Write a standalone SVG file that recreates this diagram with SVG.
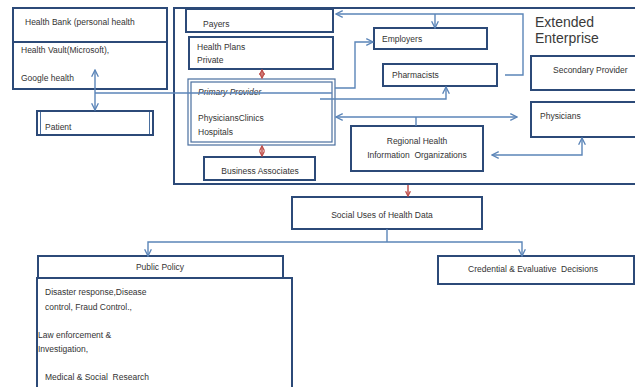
<svg xmlns="http://www.w3.org/2000/svg" width="635" height="387" viewBox="0 0 635 387">
<defs>
<style>
.box{fill:#fff;stroke:#2c4a78;stroke-width:2}
.thin{fill:none;stroke:#4a6f9f;stroke-width:1.2}
.t{font-family:"Liberation Sans",Arial,sans-serif;font-size:8.5px;fill:#333}
.c{text-anchor:middle}
.big{font-family:"Liberation Sans",Arial,sans-serif;font-size:14px;fill:#3a3a3a}
.con{fill:none;stroke:#5b85b8;stroke-width:1.4}
.red{fill:none;stroke:#c0504d;stroke-width:1.5}
</style>
<marker id="ah" viewBox="0 0 10 10" refX="9" refY="5" markerWidth="6" markerHeight="6" orient="auto-start-reverse">
<path d="M1,1 L9,5 L1,9" fill="none" stroke="#5b85b8" stroke-width="1.6"/>
</marker>
<marker id="ar" viewBox="0 0 10 10" refX="9" refY="5" markerWidth="4" markerHeight="4" orient="auto-start-reverse">
<path d="M1,1 L9,5 L1,9" fill="none" stroke="#c0504d" stroke-width="2.2"/>
</marker>
</defs>
<rect width="635" height="387" fill="#fff"/>

<g id="extended-enterprise">
<rect class="box" x="174" y="8" width="470" height="176"/>
<text class="big" x="535" y="27">Extended</text>
<text class="big" x="535" y="43">Enterprise</text>
</g>

<g id="health-bank">
<rect class="box" x="13" y="8" width="154" height="34"/>
<text class="t" x="25" y="25">Health Bank (personal health</text>
</g>
<g id="health-vault">
<rect class="box" x="13" y="42" width="154" height="47"/>
<text class="t" x="21" y="53">Health Vault(Microsoft),</text>
<text class="t" x="21" y="81">Google health</text>
</g>
<g id="patient">
<rect class="box" x="37" y="111" width="116" height="24" stroke-width="1.6"/>
<line x1="40.5" y1="112" x2="40.5" y2="134" stroke="#4a6f9f" stroke-width="1"/>
<line x1="149.5" y1="112" x2="149.5" y2="134" stroke="#4a6f9f" stroke-width="1"/>
<text class="t" x="45" y="130">Patient</text>
</g>

<g id="payers">
<rect class="box" x="186" y="9" width="147" height="23"/>
<text class="t" x="203" y="27">Payers</text>
</g>
<g id="health-plans">
<rect class="box" x="189" y="37" width="144" height="32"/>
<text class="t" x="197" y="50">Health Plans</text>
<text class="t" x="197" y="63">Private</text>
</g>
<g id="primary-provider">
<rect x="188" y="79" width="147" height="66" fill="#fff" stroke="#4a6f9f" stroke-width="1.2"/>
<rect class="thin" x="191" y="82" width="141" height="60"/>
<text class="t" x="198" y="95" font-style="italic">Primary Provider</text>
<text class="t" x="198" y="121">PhysiciansClinics</text>
<text class="t" x="198" y="135">Hospitals</text>
</g>
<g id="business-associates">
<rect class="box" x="204" y="157" width="111" height="23"/>
<text class="t c" x="260" y="174">Business Associates</text>
</g>
<g id="employers">
<rect class="box" x="374" y="28" width="113" height="21"/>
<text class="t" x="382" y="42">Employers</text>
</g>
<g id="pharmacists">
<rect class="box" x="383" y="64" width="114" height="22"/>
<text class="t" x="392" y="78">Pharmacists</text>
</g>
<g id="regional-health">
<rect class="box" x="351" y="126" width="132" height="45"/>
<text class="t c" x="417" y="144">Regional Health</text>
<text class="t c" x="417" y="158" xml:space="preserve">Information  Organizations</text>
</g>
<g id="secondary-provider">
<rect class="box" x="531" y="56" width="110" height="34"/>
<text class="t" x="553" y="73">Secondary Provider</text>
</g>
<g id="physicians">
<rect class="box" x="531" y="102" width="110" height="35"/>
<text class="t" x="540" y="119">Physicians</text>
</g>
<g id="social-uses">
<rect class="box" x="292" y="197" width="190" height="32"/>
<text class="t c" x="382" y="218">Social Uses of Health Data</text>
</g>
<g id="public-policy">
<rect class="box" x="38" y="256" width="245" height="22"/>
<text class="t c" x="160" y="270">Public Policy</text>
</g>
<g id="public-policy-details">
<rect class="box" x="37" y="278" width="255" height="120"/>
<text class="t" x="45" y="295">Disaster response,Disease</text>
<text class="t" x="45" y="310">control, Fraud Control.,</text>
<text class="t" x="38" y="338">Law enforcement &amp;</text>
<text class="t" x="38" y="352">Investigation,</text>
<text class="t" x="45" y="380" xml:space="preserve">Medical &amp; Social  Research</text>
</g>
<g id="credential">
<rect class="box" x="438" y="256" width="196" height="28"/>
<text class="t c" x="533" y="272" xml:space="preserve">Credential &amp; Evaluative  Decisions</text>
</g>

<g id="connectors">
<line class="con" x1="95" y1="70" x2="95" y2="110" marker-start="url(#ah)" marker-end="url(#ah)"/>
<line class="con" x1="95" y1="93" x2="332" y2="93" stroke-width="1"/>
<polyline class="con" points="320,99 446,99 446,87" marker-end="url(#ah)"/>
<polyline class="con" points="335,88 355,88 355,42 373,42" marker-end="url(#ah)"/>
<polyline class="con" points="505,75 523,75 523,14 336,14" marker-end="url(#ah)"/>
<line class="con" x1="435" y1="14" x2="435" y2="28" marker-end="url(#ah)"/>
<line class="con" x1="336" y1="117" x2="517" y2="117" marker-start="url(#ah)" marker-end="url(#ah)"/>
<line class="con" x1="416" y1="117" x2="416" y2="126"/>
<polyline class="con" points="492,155 582,155 582,138" marker-start="url(#ah)" marker-end="url(#ah)"/>
<line class="red" x1="262" y1="70" x2="262" y2="78" marker-start="url(#ar)" marker-end="url(#ar)"/>
<line class="red" x1="262" y1="146" x2="262" y2="156" marker-start="url(#ar)" marker-end="url(#ar)"/>
<line class="red" x1="408" y1="185" x2="408" y2="196" marker-end="url(#ar)"/>
<line class="con" x1="387" y1="229" x2="387" y2="242"/>
<polyline class="con" points="148,256 148,242 522,242 522,256" marker-start="url(#ah)" marker-end="url(#ah)"/>
</g>
</svg>
